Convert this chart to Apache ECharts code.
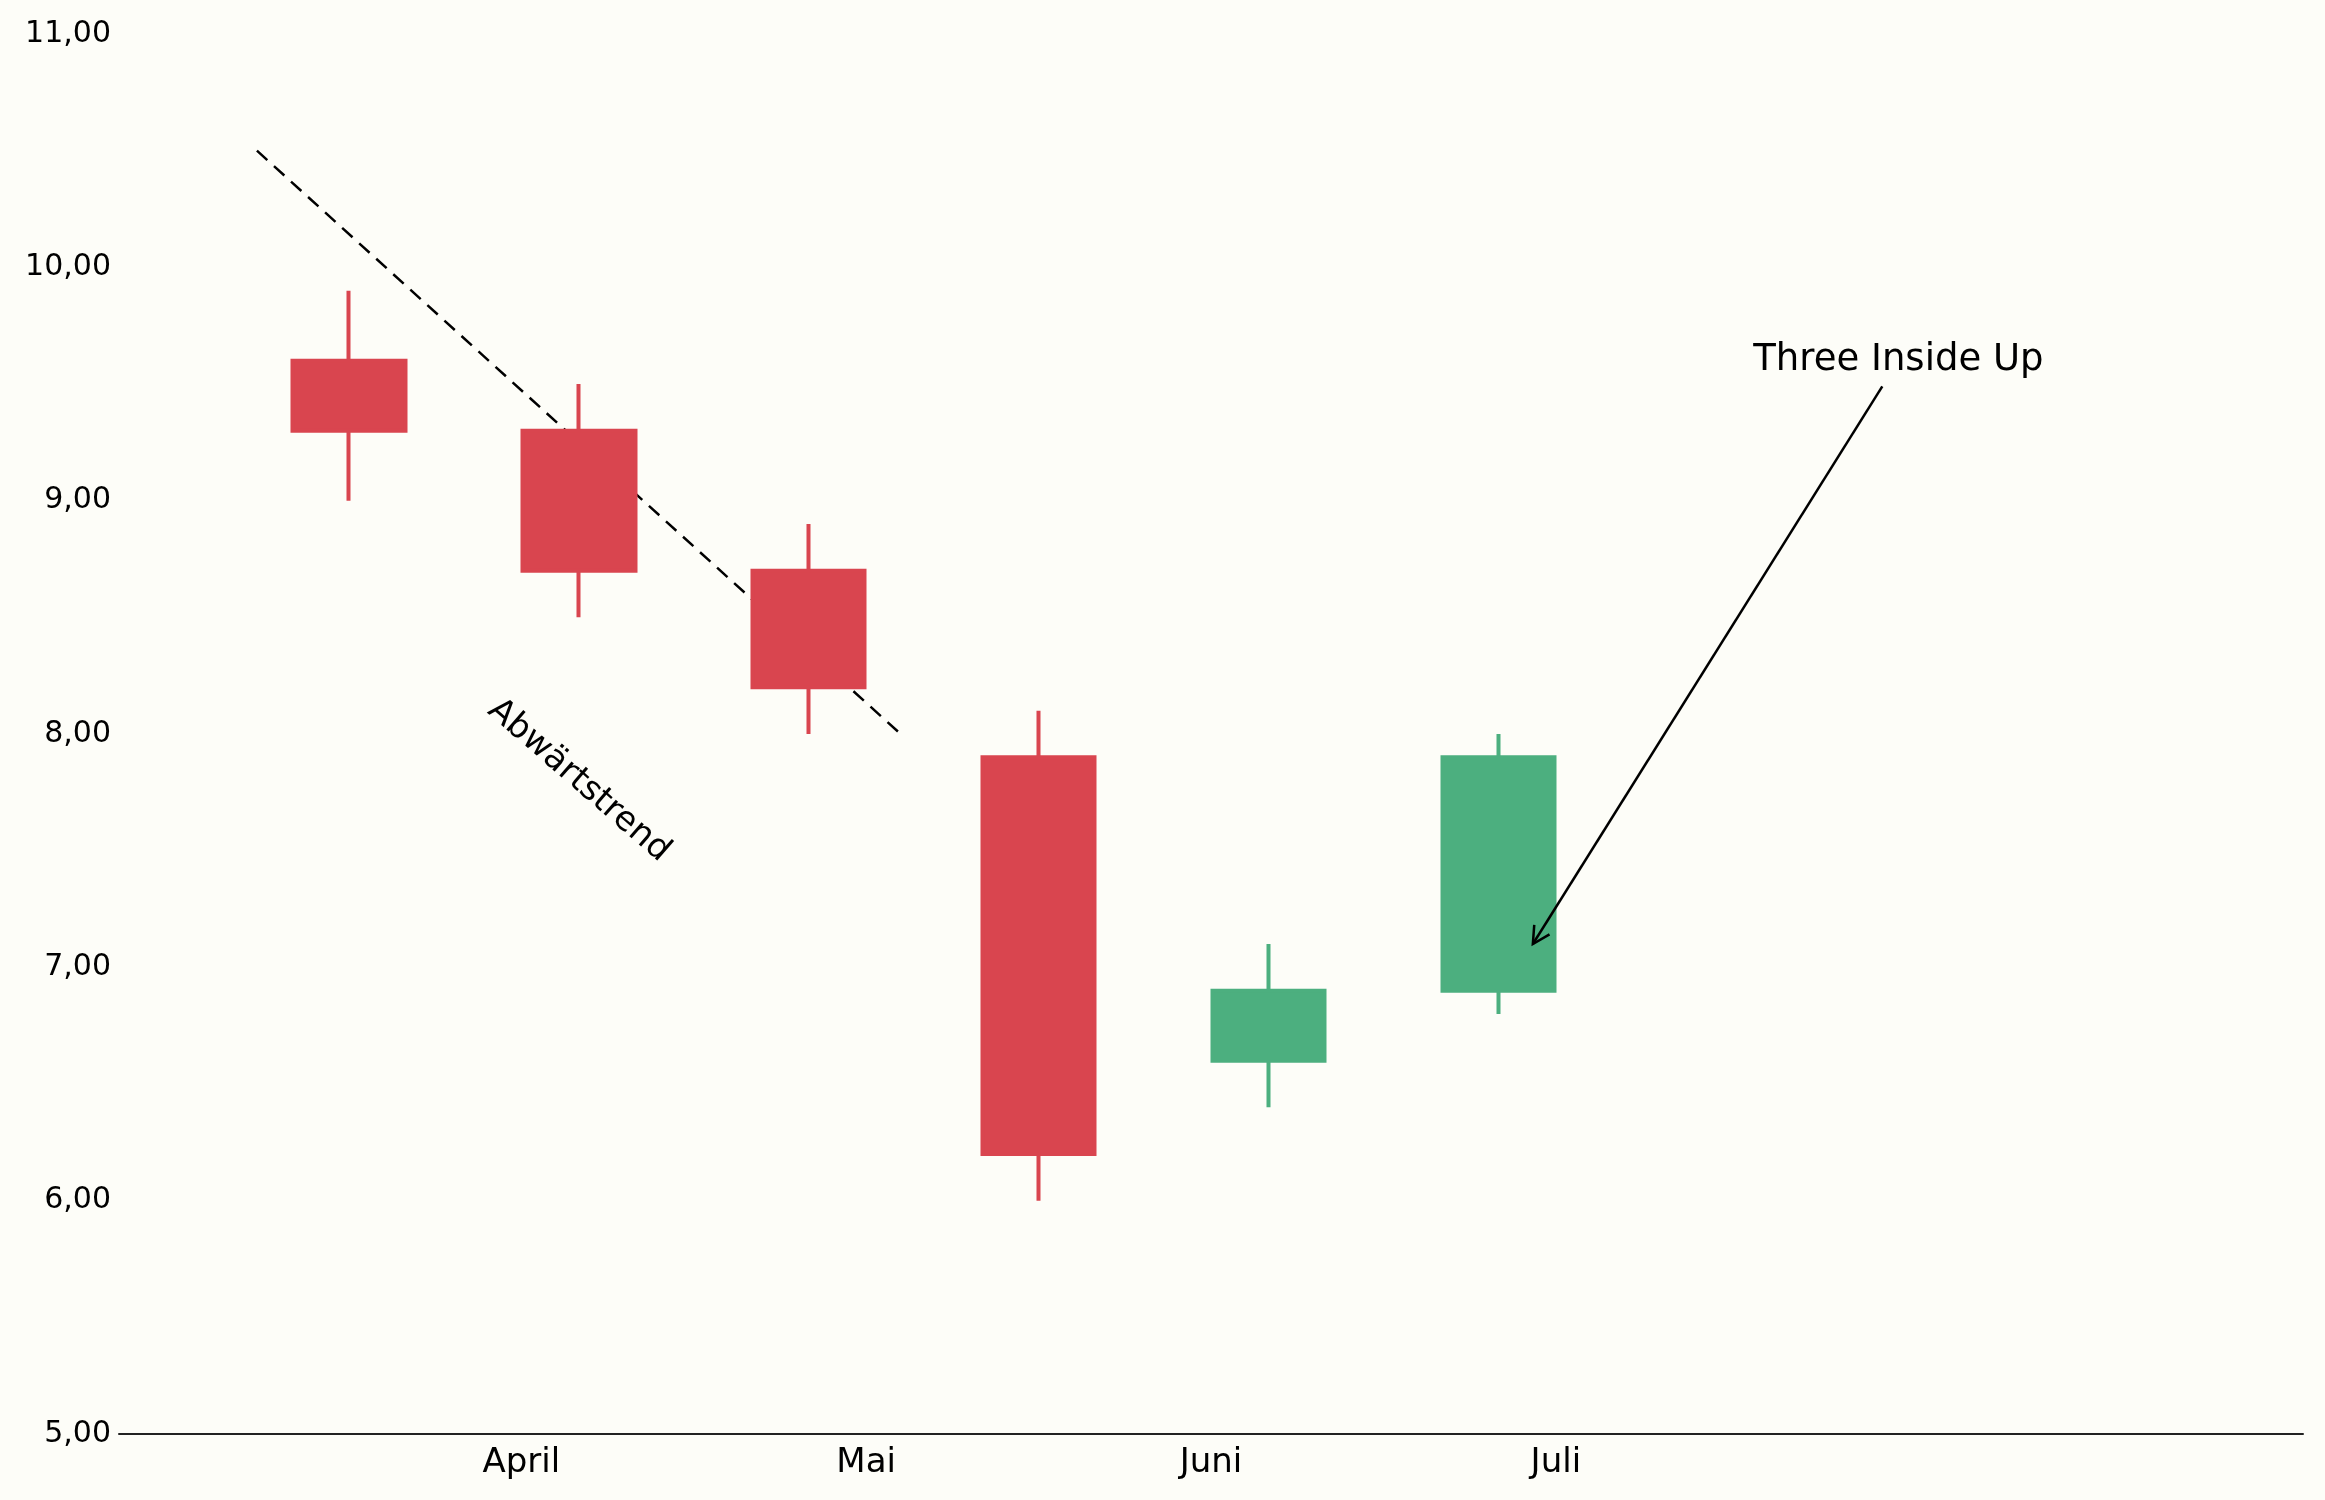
<!DOCTYPE html>
<html>
<head>
<meta charset="utf-8">
<script src="https://cdn.jsdelivr.net/npm/echarts@6/dist/echarts.min.js"></script>
<style>
	html, body { margin: 0; padding: 0; background: #fdfdf8; }
	#chart { width: 2325px; height: 1500px; }
</style>
</head>
<body>
<div id="chart"></div>
<script>
// Kerzen-Daten (Position auf der x-Achse, Eröffnung, Schluss, Tief, Hoch)
var candleX = [1, 2, 3, 4, 5, 6];
var opens = [9.6, 9.3, 8.7, 7.9, 6.6, 6.9];
var closes = [9.3, 8.7, 8.2, 6.2, 6.9, 7.9];
var lows = [9.0, 8.5, 8.0, 6.0, 6.4, 6.8];
var highs = [9.9, 9.5, 8.9, 8.1, 7.1, 8.0];

// Monats-Beschriftung der x-Achse
var monthPos = [1.75, 3.25, 4.75, 6.25];
var monthLabels = ['April', 'Mai', 'Juni', 'Juli'];

// gestrichelte Trendlinie
var trendX = [0.6, 3.4];
var trendY = [10.5, 8.0];

// Beschriftungen
var trendText = 'Abwärtstrend';
var trendTextPos = [2.0, 7.8];
var patternText = 'Three Inside Up';
var patternTextPos = [7.74, 9.6];
var arrowFrom = [7.67, 9.49];
var arrowTo = [6.15, 7.1];

var candleData = [];
for (var i = 0; i < candleX.length; i++) {
	candleData.push([candleX[i], opens[i], closes[i], lows[i], highs[i]]);
}
var trendData = [];
for (var j = 0; j < trendX.length; j++) {
	trendData.push([trendX[j], trendY[j]]);
}

var red = '#d9454f';
var green = '#4caf7f';
var font = 'DejaVu Sans';

var myChart = echarts.init(document.getElementById('chart'));
var option = {
	backgroundColor: '#fdfdf8',
	animation: false,
	grid: { left: 119, right: 22, top: 34, bottom: 66, outerBoundsMode: 'none' },
	xAxis: {
		type: 'value',
		min: 0,
		max: 9.5,
		splitLine: { show: false },
		axisTick: { show: false },
		axisLine: { show: true, lineStyle: { color: '#222', width: 2 } },
		axisLabel: {
			customValues: monthPos,
			margin: 12,
			color: '#000',
			fontFamily: font,
			fontSize: 34,
			formatter: function(v) {
				var idx = monthPos.indexOf(v);
				return idx >= 0 ? monthLabels[idx] : '';
			}
		}
	},
	yAxis: {
		type: 'value',
		min: 5,
		max: 11,
		interval: 1,
		splitLine: { show: false },
		axisTick: { show: false },
		axisLine: { show: false },
		axisLabel: {
			margin: 8,
			padding: [7, 0, 0, 0],
			color: '#000',
			fontFamily: font,
			fontSize: 30,
			formatter: function(v) {
				return v.toFixed(2).replace('.', ',');
			}
		}
	},
	series: [
		{
			// Trendlinie (liegt hinter den Kerzen)
			type: 'line',
			z: 1,
			data: trendData,
			symbol: 'none',
			silent: true,
			lineStyle: { color: '#000', width: 2.5, type: [14, 9] }
		},
		{
			type: 'candlestick',
			z: 3,
			data: candleData,
			encode: { x: 0, y: [1, 2, 3, 4] },
			barWidth: 113,
			silent: true,
			itemStyle: {
				color: green,
				color0: red,
				borderColor: green,
				borderColor0: red,
				borderWidth: 4
			}
		},
		{
			// Texte
			type: 'custom',
			z: 5,
			silent: true,
			data: [
				[trendTextPos[0], trendTextPos[1], 0],
				[patternTextPos[0], patternTextPos[1], 1]
			],
			renderItem: function(params, api) {
				var p = api.coord([api.value(0), api.value(1)]);
				var k = api.value(2);
				return {
					type: 'text',
					x: p[0],
					y: p[1],
					rotation: k == 0 ? -41 * Math.PI / 180 : 0,
					style: {
						text: k == 0 ? trendText : patternText,
						fill: '#000',
						font: (k == 0 ? 34 : 37) + 'px "' + font + '"',
						align: 'center',
						verticalAlign: 'middle'
					}
				};
			}
		},
		{
			// Pfeil zum Muster
			type: 'custom',
			z: 5,
			silent: true,
			data: [[arrowTo[0], arrowTo[1]]],
			renderItem: function(params, api) {
				var p0 = api.coord(arrowFrom);
				var p1 = api.coord(arrowTo);
				var dx = p0[0] - p1[0], dy = p0[1] - p1[1];
				var len = Math.sqrt(dx * dx + dy * dy);
				var ux = dx / len, uy = dy / len;
				var hl = 17, hw = 9; //Pfeilspitze
				var w1 = [p1[0] + ux * hl - uy * hw, p1[1] + uy * hl + ux * hw];
				var w2 = [p1[0] + ux * hl + uy * hw, p1[1] + uy * hl - ux * hw];
				return {
					type: 'group',
					children: [
						{
							type: 'line',
							shape: { x1: p0[0], y1: p0[1], x2: p1[0], y2: p1[1] },
							style: { stroke: '#000', lineWidth: 2.5 }
						},
						{
							type: 'polyline',
							shape: { points: [w1, p1, w2] },
							style: { stroke: '#000', fill: null, lineWidth: 2.5 }
						}
					]
				};
			}
		}
	]
};
myChart.setOption(option);
</script>
</body>
</html>
